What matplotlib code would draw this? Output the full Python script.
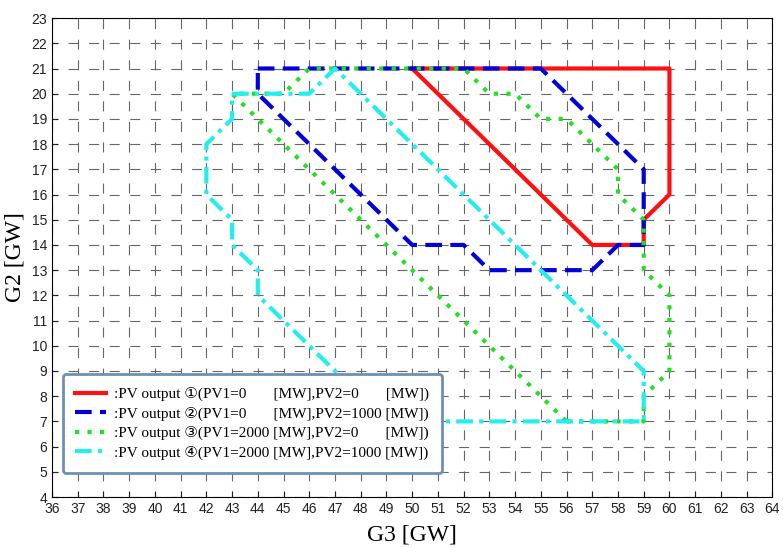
import matplotlib.pyplot as plt

# polygon vertices (G3 [GW], G2 [GW])
red_x = [50, 60, 60, 59, 59, 57, 50]
red_y = [21, 21, 16, 15, 14, 14, 21]

blue_x = [44, 55, 59, 59, 58, 57, 53, 52, 50, 44, 44]
blue_y = [21, 21, 17, 14, 14, 13, 13, 14, 14, 20, 21]

green_x = [56, 59, 59, 60, 60, 59, 59, 58, 58, 56, 55, 54, 53, 52, 46, 45, 43, 56]
green_y = [7, 7, 8, 9, 12, 13, 15, 16, 17, 19, 19, 20, 20, 21, 21, 20, 20, 7]

cyan_x = [43, 46, 47, 59, 59, 49, 44, 44, 43, 43, 42, 42, 43, 43]
cyan_y = [20, 20, 21, 9, 7, 7, 12, 13, 14, 15, 16, 18, 19, 20]

sp = " " * 7
labels = [
    ":PV output \u2460(PV1=0" + sp + "[MW],PV2=0" + sp + "[MW])",
    ":PV output \u2461(PV1=0" + sp + "[MW],PV2=1000 [MW])",
    ":PV output \u2462(PV1=2000 [MW],PV2=0" + sp + "[MW])",
    ":PV output \u2463(PV1=2000 [MW],PV2=1000 [MW])",
]

fig = plt.figure(figsize=(7.83, 5.48), dpi=100)
ax = fig.add_axes([0.0664, 0.093, 0.92, 0.874])

ax.set_xlim(36, 64)
ax.set_ylim(4, 23)
ax.set_xticks(range(36, 65))
ax.set_yticks(range(4, 24))
ax.grid(True, color="#666666", linestyle=(4, (9, 9.5)), linewidth=0.8)
ax.tick_params(direction="in", length=4, labelsize=10, colors="#222222")
for lab in ax.get_xticklabels() + ax.get_yticklabels():
    lab.set_family("Liberation Sans")

ax.plot(red_x, red_y, color="#ff1010", lw=3, label=labels[0], zorder=3)
ax.plot(blue_x, blue_y, color="#0000d8", lw=3, linestyle=(0, (4, 2)), label=labels[1], zorder=4)
ax.plot(green_x, green_y, color="#22e022", lw=3, linestyle=(0, (1, 2)), label=labels[2], zorder=5)
ax.plot(cyan_x, cyan_y, color="#22eeee", lw=3, linestyle=(0, (4, 1.5, 1, 1.5)), label=labels[3], zorder=6)

ax.set_xlabel("G3 [GW]", family="Liberation Serif", fontsize=17, labelpad=6)
ax.set_ylabel("G2 [GW]", family="Liberation Serif", fontsize=17, labelpad=4)

leg = ax.legend(loc="lower left", bbox_to_anchor=(0.004, 0.035), fancybox=True,
                framealpha=1, edgecolor="#6f8fb5", handlelength=2.0,
                borderpad=0.85, labelspacing=0.35, handletextpad=0.5,
                prop={"family": ["Liberation Serif", "DejaVu Sans"], "size": 11})
leg.get_frame().set_linewidth(2)
leg.set_zorder(10)

fig.savefig("out.png", dpi=100)
